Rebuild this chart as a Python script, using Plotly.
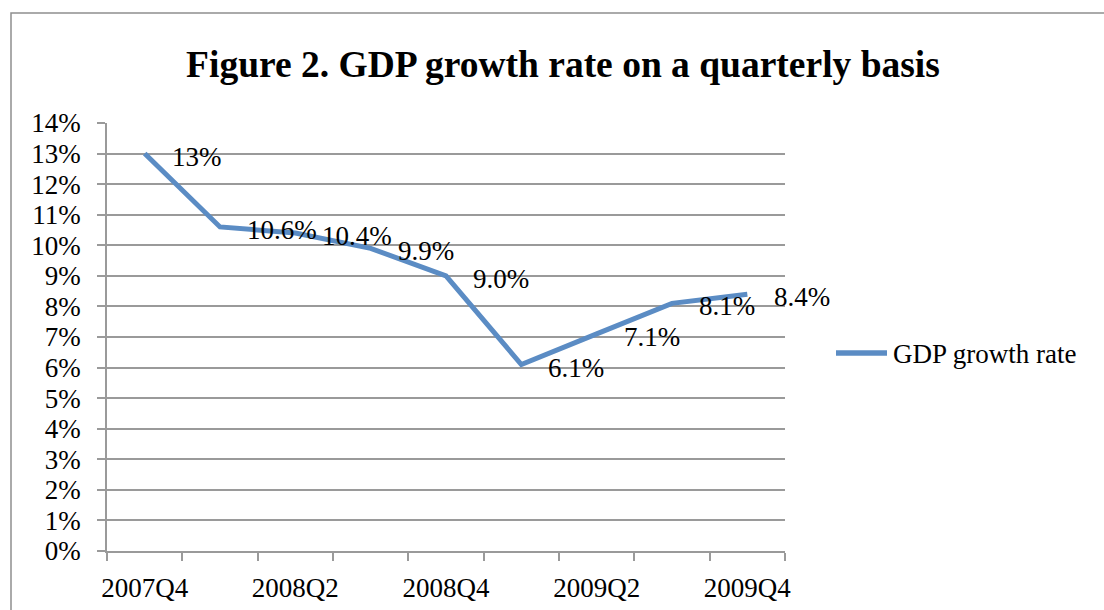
import plotly.graph_objects as go

# Quarterly GDP growth rate, per cent
quarters = ["2007Q4", "2008Q1", "2008Q2", "2008Q3", "2008Q4",
            "2009Q1", "2009Q2", "2009Q3", "2009Q4"]
growth = [13, 10.6, 10.4, 9.9, 9.0, 6.1, 7.1, 8.1, 8.4]
label_decimals = [0, 1, 1, 1, 1, 1, 1, 1, 1]
y_ticks = list(range(0, 15))
shown_quarters = ["2007Q4", "2008Q2", "2008Q4", "2009Q2", "2009Q4"]
series_name = "GDP growth rate"

W, H = 1104, 610
L, R, T, B = 107, 319, 123, 59
pw, ph = W - L - R, H - T - B

SERIF = "Liberation Serif, Times New Roman, serif"
GRID = "#9a9a9a"
BLUE = "#5b8cc4"
FS = 27

fig = go.Figure()
fig.add_trace(go.Scatter(
    x=quarters, y=growth, mode="lines", name=series_name,
    line=dict(color=BLUE, width=5), hoverinfo="skip", showlegend=False,
))

# value labels to the right of each point
for q, v, d in zip(quarters, growth, label_decimals):
    fig.add_annotation(
        x=q, y=v, text=f"{v:.{d}f}%", showarrow=False,
        xanchor="left", yanchor="middle", xshift=25, yshift=-3,
        font=dict(family=SERIF, size=FS, color="#000"),
    )


def px_x(p):
    return (p - L) / pw


def px_y(p):
    return (H - B - p) / ph


# outer chart frame (right and bottom edges fall outside the page)
fig.add_shape(type="rect", xref="paper", yref="paper",
              x0=px_x(11), x1=px_x(W + 40), y0=px_y(H + 40), y1=px_y(13),
              line=dict(color="#8f8f8f", width=1.5), fillcolor="rgba(0,0,0,0)",
              layer="below")

# legend key: long line sample followed by the series name
fig.add_shape(type="line", xref="paper", yref="paper",
              x0=px_x(836), x1=px_x(887), y0=px_y(353), y1=px_y(353),
              line=dict(color=BLUE, width=5.5))
fig.add_annotation(xref="paper", yref="paper", x=px_x(891), y=px_y(354),
                   xanchor="left", yanchor="middle", showarrow=False,
                   text=series_name,
                   font=dict(family=SERIF, size=FS, color="#000"))

fig.update_layout(
    width=W, height=H, autosize=False,
    margin=dict(l=L, r=R, t=T, b=B, autoexpand=False),
    paper_bgcolor="white", plot_bgcolor="white",
    title=dict(text="<b>Figure 2. GDP growth rate on a quarterly basis</b>",
               x=563 / W, xanchor="center", xref="container",
               y=1 - 64 / H, yanchor="middle", yref="container",
               font=dict(family=SERIF, size=37.5, color="#000")),
    showlegend=False,
    xaxis=dict(
        type="category", categoryorder="array", categoryarray=quarters,
        range=[-0.5, len(quarters) - 0.5], automargin=False,
        tickmode="array", tickvals=quarters, tickangle=0,
        ticktext=[q if q in shown_quarters else "" for q in quarters],
        tickson="boundaries", ticks="outside", ticklen=8, tickcolor=GRID,
        tickwidth=1.5, showgrid=False, zeroline=False,
        showline=True, linecolor=GRID, linewidth=1.5,
        ticklabelstandoff=12,
        tickfont=dict(family=SERIF, size=FS, color="#000"),
    ),
    yaxis=dict(
        range=[0, 14], tickmode="array", tickvals=y_ticks, automargin=False,
        ticktext=[f"{t}%" for t in y_ticks],
        ticks="outside", ticklen=8, tickcolor=GRID, tickwidth=1.5,
        showgrid=True, gridcolor=GRID, gridwidth=1.5, zeroline=False,
        showline=True, linecolor=GRID, linewidth=1.5,
        ticklabelstandoff=11,
        tickfont=dict(family=SERIF, size=FS, color="#000"),
    ),
)

fig.write_html("out.html")
